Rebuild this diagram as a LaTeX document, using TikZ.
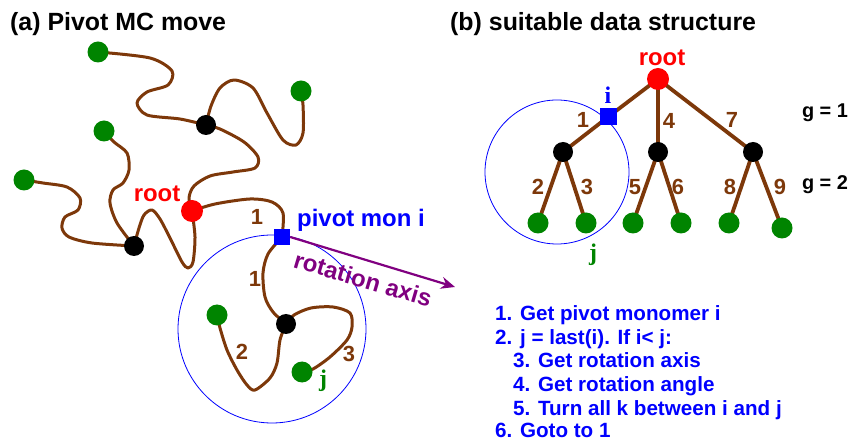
\documentclass[tikz,border=0pt]{standalone}
\usepackage{fontspec}
\setmainfont{Liberation Sans}
\newfontfamily\timesbf{Liberation Serif}
\usetikzlibrary{arrows.meta,backgrounds}

\definecolor{chain}{RGB}{125,56,10}
\definecolor{mongreen}{RGB}{0,132,0}
\definecolor{axispurple}{RGB}{128,0,128}

\tikzset{
  endmon/.style={circle, fill=mongreen, minimum size=21bp, inner sep=0pt},
  branchmon/.style={circle, fill=black, minimum size=20bp, inner sep=0pt},
  rootmon/.style={circle, fill=red, minimum size=22bp, inner sep=0pt},
  pivotmon/.style={rectangle, fill=blue, minimum size=16bp, inner sep=0pt},
  bond/.style={draw=chain, line width=3bp, line cap=round, line join=round},
  treebond/.style={draw=chain, line width=3.8bp},
  numlab/.style={text=chain, font=\bfseries\fontsize{22}{25}\selectfont, inner sep=0pt},
  biglab/.style={font=\bfseries\fontsize{24}{28}\selectfont, inner sep=0pt},
  title/.style={font=\bfseries\fontsize{25}{30}\selectfont, inner sep=0pt, anchor=base west},
  letter/.style={font=\timesbf\bfseries\fontsize{24}{28}\selectfont, inner sep=0pt},
  subtree/.style={draw=blue, line width=0.8bp},
  algline/.style={font=\bfseries\fontsize{20.7}{24}\selectfont, text=blue, anchor=base west, inner sep=0pt}
}

\begin{document}
\begin{tikzpicture}[x=1bp, y=-1bp]
  \useasboundingbox (0,0) rectangle (852,441);

  % ---- (a) the polymer ----
  \node[title] at (10,31) {(a) Pivot MC move};

  \node[endmon] (g1) at (98,52) {};
  \node[endmon] (g2) at (301,91) {};
  \node[endmon] (g3) at (104,131) {};
  \node[endmon] (g4) at (24,180) {};
  \node[endmon] (g5) at (217,315) {};
  \node[endmon] (g6) at (302,372) {};
  \node[branchmon] (b1) at (206,125) {};
  \node[branchmon] (b2) at (134,246) {};
  \node[branchmon] (b3) at (286,324) {};
  \node[rootmon] (r) at (192,211) {};
  \node[pivotmon] (piv) at (282,237) {};

  \begin{scope}[on background layer]
    \draw[subtree] (272,329) circle (94);
    \draw[bond] plot[smooth] coordinates {(g1) (150,58) (172,71) (168,85) (147,92) (137,103) (147,115) (180,119) (b1)};
    \draw[bond] plot[smooth] coordinates {(b1) (211,106) (220,88) (234,80) (253,88) (267,113) (283,140) (296,145) (303,133) (303,105) (g2)};
    \draw[bond] plot[smooth] coordinates {(b1) (220,129) (244,142) (258,157) (255,168) (233,172) (210,176) (194,186) (189,198) (r)};
    \draw[bond] plot[smooth] coordinates {(r) (215,204) (250,199) (272,202) (283,213) (piv)};
    \draw[bond] plot[smooth] coordinates {(r) (195,237) (193,262) (188,268) (182,262) (170,238) (160,219) (152,210) (144,215) (139,228) (b2)};
    \draw[bond] plot[smooth] coordinates {(b2) (117,223) (110,203) (113,190) (123,183) (129,170) (127,153) (114,142) (g3)};
    \draw[bond] plot[smooth] coordinates {(g4) (43,183) (67,187) (80,198) (78,210) (65,217) (62,228) (69,237) (92,243) (b2)};
    \draw[bond] plot[smooth] coordinates {(piv) (268,254) (263,273) (265,297) (273,312) (b3)};
    \draw[bond] plot[smooth] coordinates {(b3) (280,340) (277,363) (270,378) (255,390) (247,385) (237,370) (227,350) (220,328) (g5)};
    \draw[bond] plot[smooth] coordinates {(b3) (294,315) (311,308) (333,307) (350,313) (352,327) (347,340) (330,357) (313,369) (g6)};
  \end{scope}

  \coordinate (axisend) at (455,287);
  \draw[draw=axispurple, line width=2.2bp, -{Stealth[length=14bp, width=12bp]}] (piv.east) -- (axisend);
  \node[biglab, text=axispurple, rotate=-16.4] at (363,279) {rotation axis};

  \node[biglab, text=red] at (157,194) {root};
  \node[biglab, text=blue, anchor=base west] at (297,227) {pivot mon i};
  \node[numlab] at (257,217) {1};
  \node[numlab] at (255,279) {1};
  \node[numlab] at (242,352) {2};
  \node[numlab] at (349,354) {3};
  \node[letter, text=mongreen] at (323,381) {j};

  % ---- (b) the tree ----
  \node[title] at (450,31) {(b) suitable data structure};

  \node[rootmon] (troot) at (658,79) {};
  \node[pivotmon, minimum size=17bp] (ti) at (608,117) {};
  \node[branchmon] (t1) at (563,152) {};
  \node[branchmon] (t2) at (658,152) {};
  \node[branchmon] (t3) at (753,152) {};
  \node[endmon] (l1) at (538,223) {};
  \node[endmon] (l2) at (586,223) {};
  \node[endmon] (l3) at (633,223) {};
  \node[endmon] (l4) at (681,223) {};
  \node[endmon] (l5) at (729,223) {};
  \node[endmon] (l6) at (782,228) {};

  \begin{scope}[on background layer]
    \draw[subtree] (557,172) circle (72);
    \draw[treebond] (troot.center) -- (ti.center) -- (t1.center);
    \draw[treebond] (troot.center) -- (t2.center);
    \draw[treebond] (troot.center) -- (t3.center);
    \draw[treebond] (t1.center) -- (l1.center) (t1.center) -- (l2.center);
    \draw[treebond] (t2.center) -- (l3.center) (t2.center) -- (l4.center);
    \draw[treebond] (t3.center) -- (l5.center) (t3.center) -- (l6.center);
  \end{scope}

  \node[biglab, text=red] at (662,58) {root};
  \node[letter, text=blue] at (608,95) {i};
  \node[letter, text=mongreen] at (593,255) {j};
  \node[numlab] at (583,120) {1};
  \node[numlab] at (669,121) {4};
  \node[numlab] at (732,120) {7};
  \node[numlab] at (538,187) {2};
  \node[numlab] at (587,187) {3};
  \node[numlab] at (635,187) {5};
  \node[numlab] at (678,187) {6};
  \node[numlab] at (730,187) {8};
  \node[numlab] at (780,187) {9};
  \node[font=\bfseries\fontsize{20}{24}\selectfont, inner sep=0pt] at (825,113) {g = 1};
  \node[font=\bfseries\fontsize{20}{24}\selectfont, inner sep=0pt] at (825,185) {g = 2};

  % ---- the algorithm ----
  \foreach \x/\y/\txt in {495/321/{1. Get pivot monomer i},
                          495/344.5/{2. j = last(i). If i< j:},
                          513/368/{3. Get rotation axis},
                          513/391.5/{4. Get rotation angle},
                          513/415/{5. Turn all k between i and j},
                          495/437.5/{6. Goto to 1}}
    \node[algline] at (\x,\y) {\txt};
\end{tikzpicture}
\end{document}
